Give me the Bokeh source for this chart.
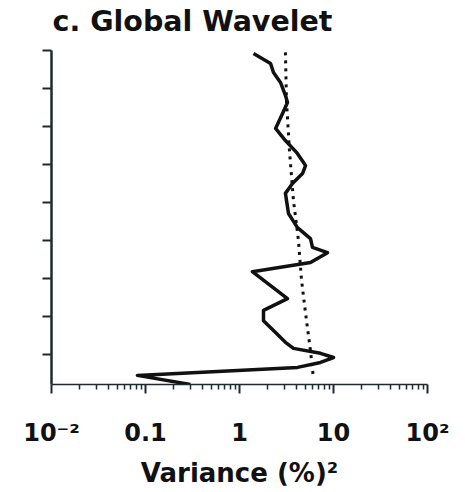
from bokeh.plotting import figure
from bokeh.models import Range1d, FixedTicker, Label
from bokeh.embed import file_html
from bokeh.resources import INLINE

# Global wavelet power (variance, (%)^2) vs. period index (octaves, 0 at top)
gws_var = [1.41, 2.14, 2.30, 2.73, 3.08, 3.24, 2.87, 2.42, 3.08, 4.04, 4.80, 5.04,
           4.68, 3.66, 3.08, 3.32, 4.14, 5.69, 5.98, 8.63, 5.69, 1.37, 3.24, 1.80,
           1.80, 2.30, 3.08, 3.75, 7.27, 10.0, 7.27, 4.14, 0.082, 0.30]
gws_period = [0.08, 0.34, 0.58, 0.84, 1.18, 1.37, 1.66, 2.05, 2.37, 2.68, 2.95, 3.03,
              3.24, 3.50, 3.76, 4.29, 4.66, 4.95, 5.18, 5.32, 5.58, 5.82, 6.53, 6.84,
              7.11, 7.37, 7.68, 7.84, 7.97, 8.08, 8.21, 8.34, 8.55, 8.79]

# Significance level (dotted)
sig_var = [3.08, 3.16, 3.40, 3.75, 4.24, 4.57, 5.16, 5.69, 6.12]
sig_period = [0.05, 1.32, 2.63, 3.95, 5.00, 6.05, 7.11, 7.90, 8.63]

title_text = "c. Global Wavelet"
x_ticks = [0.01, 0.1, 1, 10, 100]
x_tick_labels = ["10\u207b\u00b2", "0.1", "1", "10", "10\u00b2"]
x_minor = [k * 10.0 ** e for e in range(-2, 2) for k in range(2, 10)]
y_ticks = [0, 1, 2, 3, 4, 5, 6, 7, 8]

FONT = "DejaVu Sans"
INK = "#111111"
AXC = "#1e2a2c"

p = figure(frame_width=376, frame_height=334, x_axis_type="log",
           x_range=Range1d(0.01, 100), y_range=Range1d(8.79, 0),
           output_backend="svg", toolbar_location=None,
           min_border_left=51, min_border_right=30, min_border_top=50,
           min_border_bottom=100)

p.outline_line_color = None
p.grid.visible = False
p.background_fill_color = "white"
p.border_fill_color = "white"

title = Label(x=1, y=29, x_units="screen", y_units="screen",
              text=title_text, text_font=FONT, text_font_style="bold",
              text_font_size="28.5px", text_color=INK,
              text_baseline="alphabetic", text_align="left")
p.add_layout(title, "above")

xa = p.xaxis[0]
xa.ticker = FixedTicker(ticks=x_ticks, minor_ticks=x_minor)
xa.major_label_overrides = dict(zip(x_ticks, x_tick_labels))
xa.major_label_text_font = FONT
xa.major_label_text_font_style = "bold"
xa.major_label_text_font_size = "24px"
xa.major_label_text_color = INK
xa.major_label_standoff = 25
xa.major_tick_in = 0
xa.major_tick_out = 9
xa.minor_tick_in = 0
xa.minor_tick_out = 5
xa.axis_line_width = 1.5
xa.major_tick_line_width = 2
xa.minor_tick_line_width = 1.5
xa.axis_line_color = AXC
xa.major_tick_line_color = AXC
xa.minor_tick_line_color = AXC
xa.axis_label = "Variance (%)\u00b2"
xa.axis_label_text_font = FONT
xa.axis_label_text_font_style = "bold"
xa.axis_label_text_font_size = "26px"
xa.axis_label_text_color = INK
xa.axis_label_standoff = 8

ya = p.yaxis[0]
ya.ticker = FixedTicker(ticks=y_ticks, minor_ticks=[])
ya.major_label_text_color = None
ya.major_label_text_font_size = "1px"
ya.major_tick_in = 0
ya.major_tick_out = 9
ya.minor_tick_out = 0
ya.minor_tick_in = 0
ya.axis_line_width = 2.5
ya.major_tick_line_width = 2
ya.axis_line_color = AXC
ya.major_tick_line_color = AXC

p.line(sig_var, sig_period, line_color=INK, line_width=3, line_dash="3 5")
p.line(gws_var, gws_period, line_color=INK, line_width=3.5, line_join="round")

open("out.html", "w").write(file_html(p, INLINE))
